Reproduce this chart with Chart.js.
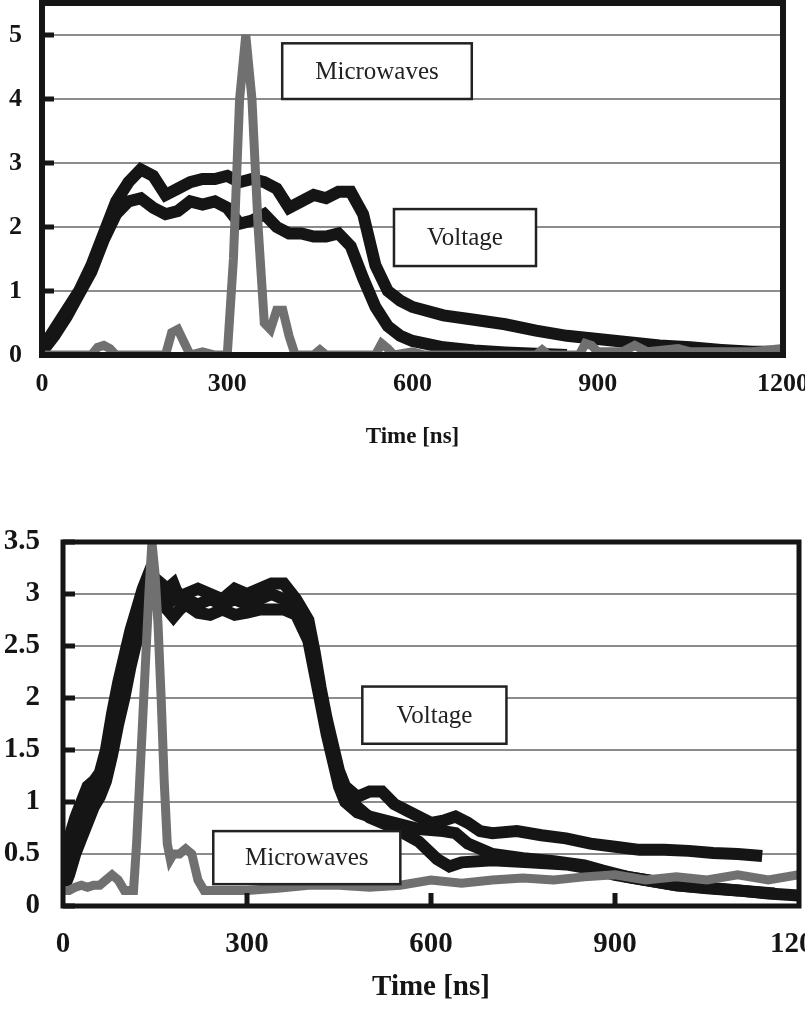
<!DOCTYPE html>
<html lang="en">
<head>
  <meta charset="UTF-8" />
  <title>Voltage and microwave pulses</title>
  <script src="https://cdn.jsdelivr.net/npm/chart.js"></script>
  <style>
    body { margin: 0; background: #fff; }
    .wrap { position: relative; width: 805px; height: 1012px; }
    #topChart { position: absolute; left: 0; top: 0; }
    #bottomChart { position: absolute; left: 0; top: 500px; }
  </style>
</head>
<body>
<div class="wrap">
  <canvas id="topChart" width="805" height="460"></canvas>
  <canvas id="bottomChart" width="805" height="512"></canvas>
</div>

<script>
  // ---- top panel data ----
  const topXTicks = [0, 300, 600, 900, 1200];
  const topYTicks = [0, 1, 2, 3, 4, 5];

  const topVoltA_t = [0,20,40,60,80,100,120,140,160,180,200,220,240,260,280,300,320,340,360,380,400,420,440,460,480,500,520,540,560,580,600,650,700,750,800,850,900,950,1000,1050,1100,1150,1200];
  const topVoltA_v = [0.1,0.4,0.7,1.0,1.4,1.9,2.4,2.7,2.9,2.8,2.5,2.6,2.7,2.75,2.75,2.8,2.7,2.75,2.7,2.6,2.3,2.4,2.5,2.45,2.55,2.55,2.2,1.4,1.0,0.85,0.75,0.62,0.55,0.48,0.38,0.3,0.25,0.2,0.15,0.12,0.08,0.05,0.05];

  const topVoltB_t = [0,20,40,60,80,100,120,140,160,180,200,220,240,260,280,300,320,340,360,380,400,420,440,460,480,500,520,540,560,580,600,650,700,750,800,850];
  const topVoltB_v = [0.05,0.3,0.6,0.95,1.3,1.8,2.2,2.4,2.45,2.3,2.2,2.25,2.4,2.35,2.4,2.3,2.05,2.1,2.2,2.0,1.9,1.9,1.85,1.85,1.9,1.7,1.2,0.75,0.45,0.3,0.22,0.12,0.07,0.04,0.02,0];

  const topMicro_t = [0,80,90,100,110,120,200,210,220,230,240,260,280,300,310,320,330,340,350,360,370,380,390,400,410,440,450,460,540,550,560,570,600,620,800,810,820,870,880,890,900,940,960,980,1030,1050,1150,1200];
  const topMicro_v = [0,0,0.12,0.15,0.1,0,0,0.35,0.4,0.2,0,0.05,0,0,1.5,4.0,5.0,4.0,2.0,0.5,0.4,0.7,0.7,0.3,0,0,0.08,0,0,0.18,0.1,0,0.05,0,0,0.08,0,0,0.18,0.15,0.05,0.05,0.15,0.05,0.1,0.05,0.05,0.1];

  // ---- bottom panel data ----
  const botXTicks = [0, 300, 600, 900, 1200];
  const botYTicks = [0, 0.5, 1, 1.5, 2, 2.5, 3, 3.5];

  const botVoltA_t = [0,10,20,30,40,50,60,70,80,90,100,110,120,130,140,150,160,170,180,190,200,220,240,260,280,300,320,340,360,380,400,410,420,430,440,450,460,480,500,520,540,560,580,600,620,640,660,680,700,740,780,820,860,900,940,980,1020,1060,1100,1140];
  const botVoltA_v = [0.4,0.65,0.85,1.0,1.15,1.2,1.28,1.5,1.85,2.15,2.4,2.65,2.85,3.05,3.2,3.15,3.1,3.05,3.1,2.95,3.0,3.05,3.0,2.95,3.05,3.0,3.05,3.1,3.1,2.95,2.75,2.45,2.1,1.8,1.55,1.3,1.15,1.05,1.1,1.1,0.98,0.92,0.86,0.8,0.82,0.86,0.8,0.72,0.7,0.72,0.68,0.65,0.6,0.57,0.54,0.54,0.53,0.51,0.5,0.48];

  const botVoltB_t = [0,10,20,30,40,50,60,70,80,90,100,110,120,130,140,150,160,170,180,190,200,220,240,260,280,300,320,340,360,380,400,410,420,430,440,450,460,480,500,540,580,620,640,660,700,750,800,850,880,920,960,1000,1050,1100,1150,1200];
  const botVoltB_v = [0.15,0.3,0.5,0.65,0.8,0.95,1.05,1.2,1.45,1.75,2.0,2.3,2.55,2.8,3.05,3.0,2.9,2.85,2.78,2.85,2.9,2.82,2.8,2.85,2.8,2.82,2.85,2.85,2.85,2.8,2.55,2.25,1.95,1.65,1.4,1.15,1.0,0.9,0.86,0.8,0.74,0.72,0.7,0.6,0.5,0.46,0.43,0.39,0.34,0.28,0.24,0.2,0.17,0.15,0.12,0.1];

  const botVoltC_t = [0,10,20,30,40,50,60,70,80,90,100,110,120,130,140,150,160,170,180,190,200,220,240,260,280,300,320,340,360,380,400,410,420,430,440,450,460,480,500,540,580,610,630,650,700,760,820,860,900,940,1000,1060,1120,1160];
  const botVoltC_v = [0.25,0.45,0.65,0.85,0.95,1.1,1.15,1.3,1.6,1.9,2.1,2.35,2.6,2.85,3.1,3.05,3.0,2.9,2.95,3.0,2.95,2.9,2.95,2.9,2.95,2.9,2.95,3.0,2.95,2.85,2.6,2.3,2.0,1.7,1.45,1.2,1.05,0.95,0.85,0.75,0.62,0.45,0.38,0.42,0.44,0.42,0.4,0.36,0.3,0.26,0.2,0.17,0.14,0.12];

  const botMicro_t = [0,10,20,30,40,50,60,70,80,90,100,110,115,120,125,130,135,140,145,150,155,160,165,170,175,180,190,200,210,220,230,260,300,350,400,450,500,550,600,650,700,750,800,850,900,950,1000,1050,1100,1150,1200];
  const botMicro_v = [0.15,0.15,0.18,0.2,0.18,0.2,0.2,0.25,0.3,0.25,0.15,0.15,0.15,0.6,1.2,1.8,2.4,3.0,3.5,3.2,2.7,2.0,1.2,0.6,0.45,0.5,0.5,0.55,0.5,0.25,0.15,0.15,0.15,0.17,0.2,0.2,0.18,0.2,0.25,0.22,0.25,0.27,0.25,0.28,0.3,0.25,0.28,0.25,0.3,0.25,0.3];

  // text boxes, anchored in data units
  const topBoxes = [
    { text: 'Microwaves', x0: 389, x1: 696, y0: 4.0, y1: 4.87 },
    { text: 'Voltage', x0: 570, x1: 800, y0: 1.39, y1: 2.28 }
  ];
  const botBoxes = [
    { text: 'Voltage', x0: 488, x1: 723, y0: 1.56, y1: 2.11 },
    { text: 'Microwaves', x0: 245, x1: 550, y0: 0.21, y1: 0.72 }
  ];

  const SERIF = '"Liberation Serif", "DejaVu Serif", serif';
  const INK = '#151515';
  const GREY = '#707070';

  const pts = (t, v) => t.map((x, i) => ({ x: x, y: v[i] }));

  // frame, inner tick marks and the labelled boxes
  const framePlugin = {
    id: 'frame',
    afterDatasetsDraw(chart, args, opts) {
      const { ctx, chartArea: a, scales: { x, y } } = chart;
      ctx.save();
      ctx.fillStyle = INK;
      opts.yTicks.forEach(v => {
        const py = y.getPixelForValue(v);
        ctx.fillRect(a.left, py - 2.5, 12, 5);
      });
      (opts.xTicks || []).forEach(v => {
        const px = x.getPixelForValue(v);
        ctx.fillRect(px - 2.5, a.bottom - 13, 5, 13);
      });
      ctx.lineWidth = opts.border;
      ctx.strokeStyle = INK;
      ctx.strokeRect(a.left, a.top, a.right - a.left, a.bottom - a.top);

      opts.boxes.forEach(b => {
        const l = x.getPixelForValue(b.x0), r = x.getPixelForValue(b.x1);
        const t = y.getPixelForValue(b.y1), bt = y.getPixelForValue(b.y0);
        ctx.fillStyle = '#fff';
        ctx.fillRect(l, t, r - l, bt - t);
        ctx.lineWidth = 2.5;
        ctx.strokeStyle = '#222';
        ctx.strokeRect(l, t, r - l, bt - t);
        ctx.fillStyle = '#222';
        ctx.font = '25px ' + SERIF;
        ctx.textAlign = 'center';
        ctx.textBaseline = 'middle';
        ctx.fillText(b.text, (l + r) / 2, (t + bt) / 2 + 1);
      });
      ctx.restore();
    }
  };

  function makeChart(id, cfg) {
    const datasets = cfg.series.map(s => ({
      data: pts(s.t, s.v),
      borderColor: s.grey ? GREY : INK,
      borderWidth: s.grey ? 9 : 12,
      borderJoinStyle: 'miter',
      pointRadius: 0,
      tension: 0,
      fill: false
    }));
    return new Chart(document.getElementById(id), {
      type: 'line',
      data: { datasets },
      options: {
        responsive: false,
        animation: false,
        devicePixelRatio: 1,
        layout: { padding: cfg.padding },
        plugins: {
          legend: { display: false },
          tooltip: { enabled: false },
          frame: { yTicks: cfg.yTicks, xTicks: cfg.xMarks, boxes: cfg.boxes, border: cfg.border }
        },
        scales: {
          x: {
            type: 'linear',
            min: 0,
            max: 1200,
            afterBuildTicks: axis => { axis.ticks = cfg.xTicks.map(v => ({ value: v })); },
            afterFit: axis => {
              axis.height = cfg.xHeight;
              axis.paddingLeft = 0;
              axis.paddingRight = 0;
            },
            grid: { display: false, drawTicks: false },
            border: { display: false },
            ticks: {
              color: INK,
              padding: cfg.xPad,
              maxRotation: 0,
              autoSkip: false,
              font: { family: SERIF, size: cfg.tickSize, weight: 'bold' },
              callback: v => String(v)
            },
            title: {
              display: true,
              text: 'Time [ns]',
              color: INK,
              padding: { top: 0, bottom: cfg.titlePad },
              font: { family: SERIF, size: cfg.titleSize, weight: 'bold' }
            }
          },
          y: {
            min: 0,
            max: cfg.yMax,
            afterBuildTicks: axis => { axis.ticks = cfg.yTicks.map(v => ({ value: v })); },
            afterFit: axis => {
              axis.width = cfg.yWidth;
              axis.paddingTop = 0;
              axis.paddingBottom = 0;
            },
            grid: { color: '#8c8c8c', lineWidth: 2, drawTicks: false },
            border: { display: false },
            ticks: {
              color: INK,
              padding: cfg.yPad,
              autoSkip: false,
              font: { family: SERIF, size: cfg.tickSize, weight: 'bold' },
              callback: v => String(v)
            }
          }
        }
      },
      plugins: [framePlugin]
    });
  }

  makeChart('topChart', {
    series: [
      { t: topMicro_t, v: topMicro_v, grey: true },
      { t: topVoltA_t, v: topVoltA_v },
      { t: topVoltB_t, v: topVoltB_v }
    ],
    xTicks: topXTicks, yTicks: topYTicks, xMarks: [],
    boxes: topBoxes, yMax: 5.5,
    padding: { top: 3, right: 22, left: 0, bottom: 0 },
    yWidth: 42, xHeight: 105,
    xPad: 14, yPad: 20, titlePad: 9,
    tickSize: 26, titleSize: 23, border: 6
  });

  makeChart('bottomChart', {
    series: [
      { t: botMicro_t, v: botMicro_v, grey: true },
      { t: botVoltA_t, v: botVoltA_v },
      { t: botVoltB_t, v: botVoltB_v },
      { t: botVoltC_t, v: botVoltC_v }
    ],
    xTicks: botXTicks, yTicks: botYTicks, xMarks: [300, 600, 900],
    boxes: botBoxes, yMax: 3.5,
    padding: { top: 42, right: 6, left: 0, bottom: 0 },
    yWidth: 63, xHeight: 106,
    xPad: 21, yPad: 23, titlePad: 7,
    tickSize: 29, titleSize: 29, border: 5
  });
</script>
</body>
</html>
